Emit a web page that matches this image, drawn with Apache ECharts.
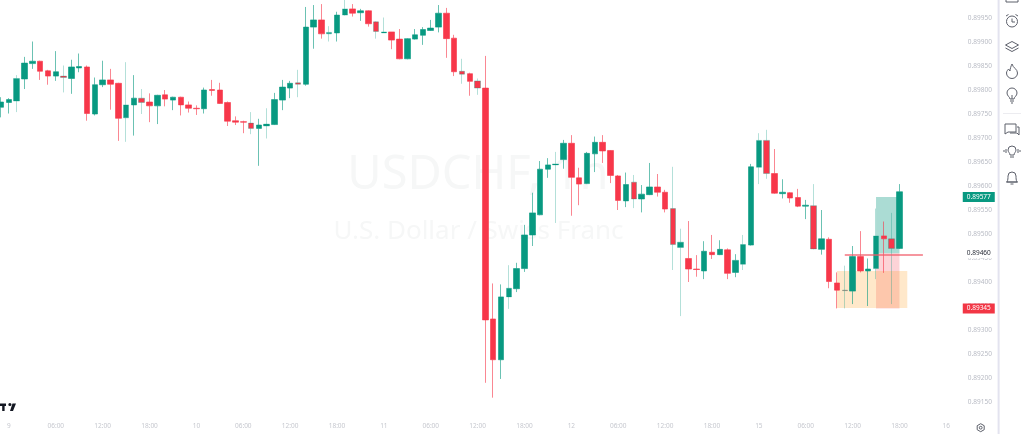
<!DOCTYPE html>
<html><head><meta charset="utf-8">
<style>html,body{margin:0;padding:0;background:#fff;overflow:hidden}#c{width:1024px;height:434px}</style>
<script src="https://cdn.jsdelivr.net/npm/echarts@6/dist/echarts.min.js"></script>
</head><body><div id="c"></div>
<script>
const opens=[.89764,.89774,.89777,.89823,.89855,.89860,.89840,.89829,.89829,.89824,.89846,.89848,.89750,.89811,.89821,.89814,.89742,.89769,.89783,.89775,.89767,.89790,.89779,.89785,.89769,.89762,.89761,.89801,.89800,.89774,.89736,.89734,.89731,.89720,.89725,.89728,.89779,.89804,.89815,.89812,.89931,.89946,.89917,.89919,.89956,.89969,.89961,.89965,.89942,.89919,.89921,.89906,.89865,.89906,.89914,.89924,.89931,.89960,.89908,.89839,.89834,.89819,.89804,.89323,.89238,.89369,.89386,.89428,.89498,.89540,.89635,.89644,.89655,.89689,.89617,.89605,.89667,.89691,.89674,.89621,.89569,.89608,.89573,.89582,.89598,.89587,.89553,.89472,.89449,.89427,.89423,.89462,.89457,.89467,.89420,.89437,.89477,.89639,.89695,.89626,.89584,.89586,.89576,.89558,.89559,.89468,.89489,.89398,.89383,.89381,.89453,.89423,.89428,.89496,.89490,.89470];
const closes=[.89775,.89780,.89824,.89856,.89860,.89839,.89829,.89838,.89826,.89848,.89849,.89751,.89811,.89821,.89812,.89741,.89769,.89783,.89774,.89767,.89789,.89781,.89785,.89769,.89762,.89761,.89800,.89799,.89772,.89735,.89733,.89733,.89720,.89727,.89729,.89780,.89806,.89814,.89812,.89931,.89946,.89917,.89920,.89956,.89969,.89960,.89965,.89938,.89922,.89921,.89904,.89865,.89907,.89915,.89926,.89929,.89960,.89907,.89838,.89833,.89818,.89804,.89321,.89238,.89369,.89387,.89428,.89498,.89544,.89635,.89644,.89646,.89689,.89618,.89604,.89668,.89691,.89673,.89622,.89570,.89603,.89573,.89583,.89598,.89587,.89552,.89478,.89483,.89427,.89426,.89464,.89457,.89468,.89418,.89445,.89478,.89640,.89695,.89626,.89585,.89587,.89575,.89558,.89560,.89469,.89490,.89401,.89383,.89382,.89453,.89423,.89427,.89496,.89490,.89470,.89588];
const lows=[.89743,.89751,.89754,.89802,.89844,.89821,.89811,.89819,.89795,.89792,.89837,.89736,.89747,.89806,.89759,.89694,.89692,.89705,.89750,.89733,.89729,.89766,.89758,.89747,.89753,.89748,.89751,.89788,.89771,.89725,.89727,.89710,.89708,.89642,.89699,.89727,.89758,.89783,.89785,.89809,.89886,.89907,.89901,.89901,.89955,.89953,.89944,.89932,.89907,.89919,.89885,.89864,.89864,.89905,.89894,.89923,.89920,.89867,.89829,.89813,.89788,.89790,.89190,.89159,.89198,.89344,.89379,.89421,.89475,.89539,.89617,.89523,.89636,.89538,.89560,.89604,.89629,.89648,.89606,.89550,.89556,.89554,.89545,.89581,.89578,.89545,.89425,.89329,.89400,.89411,.89406,.89448,.89456,.89406,.89410,.89425,.89476,.89604,.89615,.89584,.89574,.89565,.89556,.89531,.89468,.89457,.89387,.89345,.89345,.89354,.89420,.89350,.89406,.89419,.89354,.89469];
const highs=[.89785,.89783,.89831,.89869,.89901,.89861,.89842,.89881,.89851,.89863,.89876,.89851,.89826,.89861,.89844,.89815,.89858,.89831,.89802,.89793,.89790,.89800,.89786,.89786,.89776,.89768,.89805,.89821,.89815,.89776,.89745,.89736,.89754,.89740,.89762,.89794,.89821,.89819,.89842,.89973,.89977,.89979,.89933,.89963,.89990,.89979,.89969,.89966,.89943,.89951,.89921,.89927,.89908,.89927,.89931,.89946,.89977,.89971,.89915,.89865,.89836,.89824,.89871,.89397,.89395,.89435,.89440,.89519,.89586,.89652,.89658,.89671,.89696,.89706,.89638,.89671,.89703,.89706,.89675,.89623,.89628,.89623,.89602,.89648,.89625,.89592,.89640,.89511,.89527,.89456,.89485,.89498,.89487,.89470,.89458,.89498,.89646,.89710,.89717,.89677,.89614,.89587,.89594,.89571,.89604,.89550,.89493,.89420,.89434,.89475,.89506,.89449,.89553,.89526,.89544,.89604];
const tickLabels=['9','06:00','12:00','18:00','10','06:00','12:00','18:00','11','06:00','12:00','18:00','12','06:00','12:00','18:00','15','06:00','12:00','18:00','16'];
const lastPrice=0.89577, targetPrice=0.89460, stopPrice=0.89345, orderLine=0.89457, boxTop=0.89423, boxBottom=0.89346;
const watermark='USDCHF, 1h', watermarkSub='U.S. Dollar / Swiss Franc';
const faintWicks=[2,8,16,18,32,34,38,42,44,48,49,59,61,65,71,81,86,87,95,97,98,104,108,112,114];

const green='#089981', red='#f7374a';
const slots=124, step=7.812;
const categories=Array.from({length:slots},(_,i)=>(i%6===1?tickLabels[(i-1)/6]:'')||'');
const candles=opens.map((o,i)=>{
  const value=[o,closes[i],lows[i],highs[i]];
  return faintWicks.includes(i)?{value,itemStyle:{borderColor:'rgba(8,153,129,0.3)',borderColor0:'rgba(247,55,74,0.3)'}}:{value};
});
const sans='"Noto Sans",sans-serif';
function tag(v,bg,fg){return {coord:[slots-1,v],symbol:'rect',symbolSize:[32,10],symbolOffset:[16.8,0],
  itemStyle:{color:bg},label:{show:true,position:'inside',formatter:v.toFixed(5),color:fg,fontSize:6.5,fontFamily:sans}};}
let shapeCount=0;
function shape(d,style,x,y){const n='ic'+(shapeCount++);
  echarts.graphic.registerShape(n,echarts.graphic.extendPath(d,{}));
  return {type:n,x:x||0,y:y||0,silent:true,style};}
const line={fill:'none',stroke:'#5d606b',lineWidth:1};
function icon(d,x,y){return shape(d,line,x,y);}

const chart=echarts.init(document.getElementById('c'),null,{renderer:'canvas'});
chart.setOption({
  animation:false,backgroundColor:'#fff',
  grid:{left:-2.82,top:18,width:slots*step,height:384,containLabel:false,outerBoundsMode:'none'},
  xAxis:{type:'category',data:categories,boundaryGap:true,axisLine:{show:false},axisTick:{show:false},splitLine:{show:false},
    axisLabel:{interval:(i)=>i%6===1,margin:21,color:'#c6c8cf',fontSize:6.5,fontFamily:sans,hideOverlap:false}},
  yAxis:{type:'value',position:'right',min:0.8915,max:0.8995,interval:0.0005,scale:true,axisLine:{show:false},axisTick:{show:false},splitLine:{show:false},
    axisLabel:{margin:2,color:'#b8bbc4',fontSize:6.5,fontFamily:sans,formatter:v=>v.toFixed(5),showMinLabel:true,showMaxLabel:true}},
  graphic:[
    {type:'text',z:0,silent:true,style:{text:watermark,x:478,y:176,align:'center',verticalAlign:'middle',fontSize:47,fontFamily:sans,fill:'#f6f7f7'}},
    {type:'text',z:0,silent:true,style:{text:watermarkSub,x:478.5,y:232,align:'center',verticalAlign:'middle',fontSize:26,fontFamily:sans,fill:'#f6f7f7'}},
    {type:'rect',silent:true,shape:{x:997.6,y:0,width:2,height:434},style:{fill:'#e3e3ef'}},
    {type:'rect',silent:true,shape:{x:1003,y:113,width:18,height:1},style:{fill:'#ececf0'}},
    shape('M0 403.5H6V406H4.6V411H2.2V406H0Z M11.5 404.5A1.6 1.6 0 1 1 8.3 404.5A1.6 1.6 0 1 1 11.5 404.5Z M10 411L12.5 403.5H16L13 411Z',{fill:'#131722'}),
    icon('M-6 0V2H6V0',1012,0),
    icon('M-5.5 0.5A5.5 5.5 0 1 1 5.5 0.5A5.5 5.5 0 1 1 -5.5 0.5Z M0 -2.5V1H3 M-6 -5L-3.5 -6.5 M6 -5L3.5 -6.5',1012,21),
    icon('M0 -5L6.5 -1.5L0 2L-6.5 -1.5Z M-6.5 1.5L0 5L6.5 1.5',1012,46.5),
    icon('M0 -7C1 -3 5.5 -2 5.5 2A5.5 5.5 0 0 1 -5.5 2C-5.5 0 -4 -1 -3.5 -2L-2 0C-2 -2 -1 -5 0 -7Z',1012,71),
    icon('M-2 3C-2 1 -5 0 -5 -3A5 5 0 0 1 5 -3C5 0 2 1 2 3Z M-2 5H2 M-1 7H1 M0 3V-1',1012,96),
    icon('M-7 -5H4V3H-4L-7 5Z M5 -2H7V6L5 4H-2',1012,129),
    icon('M-2 3C-2 1 -4 0 -4 -2A4 4 0 0 1 4 -2C4 0 2 1 2 3Z M-2 5H2 M-6 -3V1 M-8 -2V0 M6 -3V1 M8 -2V0',1012,152),
    icon('M-5 4C-4 2 -4 0 -4 -2A4 4 0 0 1 4 -2C4 0 4 2 5 4Z M-6 4H6 M-1.5 6H1.5',1012,178),
    icon('M0 -4L3.5 -2V2L0 4L-3.5 2V-2Z M1.4 0A1.4 1.4 0 1 1 -1.4 0A1.4 1.4 0 1 1 1.4 0',980.7,427.7)
  ],
  series:[{
    type:'candlestick',data:candles,barWidth:6,clip:false,z:5,
    itemStyle:{color:green,color0:red,borderColor:'rgba(8,153,129,0.6)',borderColor0:'rgba(247,55,74,0.6)',borderWidth:1},
    markArea:{silent:true,z:1,data:[
      [{xAxis:112,yAxis:lastPrice,itemStyle:{color:'rgba(8,153,129,0.34)'}},{xAxis:115,yAxis:targetPrice}],
      [{xAxis:112,yAxis:targetPrice,itemStyle:{color:'rgba(247,55,74,0.22)'}},{xAxis:115,yAxis:stopPrice}],
      [{xAxis:107,yAxis:boxTop,itemStyle:{color:'rgba(255,165,50,0.26)'}},{xAxis:116,yAxis:boxBottom}]
    ]},
    markLine:{silent:true,symbol:'none',z:6,animation:false,lineStyle:{color:'rgba(240,90,105,0.85)',width:1.5,type:'solid'},label:{show:false},
      data:[[{xAxis:108,yAxis:orderLine},{xAxis:118,yAxis:orderLine}]]},
    markPoint:{silent:true,z:8,data:[tag(lastPrice,green,'#fff'),tag(targetPrice,'#fff','#2a2e39'),tag(stopPrice,'#f23645','#fff')]}
  }]
});
</script></body></html>
